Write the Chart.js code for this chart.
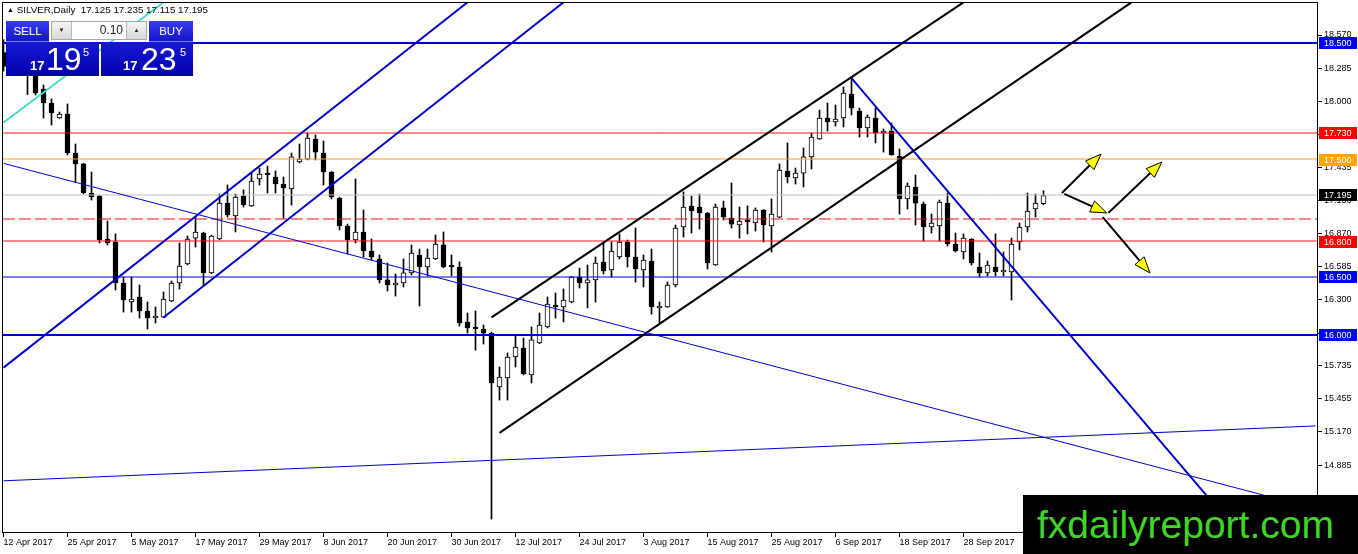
<!DOCTYPE html>
<html>
<head>
<meta charset="utf-8">
<title>SILVER, Daily</title>
<script src="https://cdn.jsdelivr.net/npm/chart.js@4.4.0/dist/chart.umd.min.js"></script>
<style>
  html, body { margin: 0; padding: 0; background: #fff; }
  #wrap { position: relative; width: 1358px; height: 554px; overflow: hidden; font-family: "Liberation Sans", Arial, sans-serif; }
  #chart { position: absolute; left: 0; top: 0; }
  #title { position: absolute; left: 7px; top: 4px; font-size: 9.8px; color: #000; white-space: pre; }
  #title .tri { font-size: 7px; vertical-align: 1px; }
  .btn { position: absolute; top: 21px; height: 21px; line-height: 21px; text-align: center; color: #fff; font-size: 11.5px;
         background: linear-gradient(#3a3af0, #1414c8); border-bottom: 1px solid #8080ff; box-sizing: border-box; }
  #sell { left: 6px; width: 43px; }
  #buy { left: 149px; width: 44px; }
  #lots { position: absolute; left: 51px; top: 21px; width: 96px; height: 19px; background: #fff; border: 1px solid #a8a8a8; box-sizing: border-box; }
  #lots .spin { position: absolute; top: 0; width: 19px; height: 17px; background: linear-gradient(#f4f4f4, #d8d8d8); font-size: 6px; line-height: 17px; text-align: center; color: #222; }
  #lots .down { left: 0; border-right: 1px solid #b8b8b8; }
  #lots .up { right: 0; border-left: 1px solid #b8b8b8; }
  #lots .val { position: absolute; right: 23px; top: 0; font-size: 12px; line-height: 17px; color: #222; }
  .quote { position: absolute; top: 42px; height: 34px; background: linear-gradient(#1818d8, #0000a8); color: #fff; }
  #bid { left: 6px; width: 93px; }
  #ask { left: 101px; width: 92px; }
  .quote span { position: absolute; white-space: nowrap; }
  .q-small { top: 17px; font-size: 13px; line-height: 13px; font-weight: bold; }
  .q-big { top: 1px; font-size: 32px; line-height: 32px; }
  .q-sup { top: 5px; font-size: 11px; line-height: 11px; }
  #brand { position: absolute; left: 1023px; top: 495px; width: 335px; height: 59px; background: #000; color: #3fd626;
           font-size: 39px; line-height: 59px; padding-left: 14px; box-sizing: border-box; white-space: nowrap; }
</style>
</head>
<body>
<div id="wrap">
  <canvas id="chart" width="1358" height="554"></canvas>
  <div id="title"><span class="tri">▲</span> SILVER,Daily  17.125 17.235 17.115 17.195</div>
  <div class="btn" id="sell">SELL</div>
  <div id="lots"><span class="spin down">▼</span><span class="val">0.10</span><span class="spin up">▲</span></div>
  <div class="btn" id="buy">BUY</div>
  <div class="quote" id="bid"><span class="q-small" style="left:24px">17</span><span class="q-big" style="left:40px">19</span><span class="q-sup" style="left:77px">5</span></div>
  <div class="quote" id="ask"><span class="q-small" style="left:22px">17</span><span class="q-big" style="left:40px">23</span><span class="q-sup" style="left:79px">5</span></div>
  <div id="brand">fxdailyreport.com</div>
</div>
<script>
// daily bars, 12 Apr 2017 .. 12 Oct 2017 (bar index 0..130)
const opens = [
  18.42, 18.30, 18.38, 18.28, 18.236, 18.107, 17.987, 17.859, 17.893, 17.559,
  17.465, 17.216, 17.190, 16.822, 16.796, 16.445, 16.282, 16.325, 16.205, 16.145,
  16.153, 16.291, 16.445, 16.608, 16.830, 16.873, 16.531, 16.822, 17.130, 17.019,
  17.190, 17.105, 17.336, 17.387, 17.353, 17.293, 17.250, 17.482, 17.507, 17.679,
  17.559, 17.396, 17.173, 16.933, 16.813, 16.882, 16.719, 16.651, 16.471, 16.428,
  16.445, 16.531, 16.685, 16.582, 16.651, 16.771, 16.599, 16.582, 16.111, 16.059,
  16.051, 16.016, 15.554, 15.631, 15.811, 15.888, 15.657, 15.931, 16.068, 16.256,
  16.239, 16.282, 16.496, 16.445, 16.471, 16.625, 16.556, 16.668, 16.796, 16.668,
  16.556, 16.633, 16.231, 16.239, 16.428, 16.925, 17.105, 17.096, 17.045, 16.599,
  17.088, 17.002, 16.942, 16.976, 16.959, 17.070, 16.933, 17.010, 17.405, 17.345,
  17.387, 17.525, 17.679, 17.859, 17.825, 17.859, 18.064, 17.919, 17.773, 17.859,
  17.730, 17.747, 17.533, 17.165, 17.267, 17.122, 16.925, 16.933, 17.130, 16.779,
  16.711, 16.822, 16.582, 16.531, 16.582, 16.539, 16.539, 16.796, 16.925, 17.079,
  17.125
];
const highs = [
  18.53, 18.42, 18.45, 18.32, 18.27, 18.142, 18.022, 17.910, 17.979, 17.636,
  17.470, 17.396, 17.195, 16.976, 16.865, 16.496, 16.496, 16.428, 16.282, 16.239,
  16.368, 16.462, 16.788, 16.848, 17.010, 16.880, 16.855, 17.207, 17.285, 17.207,
  17.242, 17.388, 17.430, 17.447, 17.405, 17.353, 17.559, 17.636, 17.730, 17.713,
  17.662, 17.400, 17.180, 16.950, 17.336, 17.070, 16.822, 16.685, 16.616, 16.522,
  16.651, 16.771, 16.736, 16.736, 16.856, 16.882, 16.685, 16.625, 16.188, 16.205,
  16.085, 16.025, 15.725, 15.845, 15.999, 15.973, 16.068, 16.188, 16.325, 16.359,
  16.394, 16.500, 16.573, 16.599, 16.668, 16.788, 16.796, 16.865, 16.813, 16.916,
  16.685, 16.736, 16.282, 16.453, 16.942, 17.225, 17.190, 17.207, 17.050, 17.122,
  17.147, 17.302, 17.096, 17.105, 17.088, 17.075, 17.165, 17.465, 17.645, 17.430,
  17.602, 17.730, 17.927, 17.987, 17.970, 18.124, 18.210, 17.944, 17.885, 17.944,
  17.765, 17.816, 17.593, 17.302, 17.370, 17.139, 17.036, 17.156, 17.216, 16.873,
  16.865, 16.825, 16.702, 16.633, 16.865, 16.711, 16.830, 16.959, 17.216, 17.207,
  17.235
];
const lows = [
  18.26, 18.24, 18.25, 18.06, 18.056, 17.859, 17.799, 17.855, 17.542, 17.310,
  17.210, 17.156, 16.788, 16.771, 16.385, 16.196, 16.196, 16.145, 16.051, 16.102,
  16.150, 16.285, 16.394, 16.600, 16.753, 16.428, 16.525, 16.815, 17.010, 16.882,
  17.096, 17.100, 17.285, 17.216, 17.216, 17.002, 17.113, 17.473, 17.500, 17.499,
  17.285, 17.165, 16.899, 16.693, 16.788, 16.668, 16.642, 16.445, 16.376, 16.333,
  16.411, 16.513, 16.248, 16.505, 16.645, 16.575, 16.505, 16.076, 16.016, 15.870,
  15.922, 14.422, 15.442, 15.442, 15.725, 15.657, 15.588, 15.925, 16.060, 16.145,
  16.111, 16.275, 16.402, 16.231, 16.282, 16.522, 16.496, 16.651, 16.582, 16.453,
  16.411, 16.179, 16.102, 16.235, 16.411, 16.839, 16.873, 16.907, 16.565, 16.595,
  16.985, 16.916, 16.830, 16.865, 16.890, 16.796, 16.711, 17.005, 17.302, 17.293,
  17.268, 17.422, 17.675, 17.747, 17.790, 17.782, 17.885, 17.696, 17.696, 17.645,
  17.567, 17.540, 17.036, 17.079, 16.942, 16.805, 16.873, 16.805, 16.762, 16.711,
  16.651, 16.599, 16.496, 16.505, 16.505, 16.505, 16.299, 16.728, 16.882, 17.010,
  17.115
];
const closes = [
  18.30, 18.38, 18.28, 18.24, 18.073, 17.987, 17.902, 17.893, 17.559, 17.465,
  17.216, 17.182, 16.813, 16.788, 16.445, 16.299, 16.308, 16.205, 16.145, 16.162,
  16.308, 16.445, 16.590, 16.822, 16.882, 16.531, 16.848, 17.130, 17.028, 17.182,
  17.113, 17.319, 17.379, 17.370, 17.293, 17.259, 17.525, 17.507, 17.687, 17.567,
  17.396, 17.182, 16.933, 16.813, 16.882, 16.719, 16.668, 16.471, 16.428, 16.445,
  16.531, 16.702, 16.582, 16.659, 16.779, 16.582, 16.582, 16.102, 16.059, 16.051,
  16.016, 15.588, 15.639, 15.811, 15.896, 15.665, 15.957, 16.085, 16.265, 16.239,
  16.299, 16.496, 16.445, 16.471, 16.616, 16.548, 16.719, 16.796, 16.668, 16.565,
  16.642, 16.239, 16.248, 16.428, 16.916, 17.096, 17.062, 17.045, 16.616, 17.096,
  17.010, 16.950, 16.976, 16.968, 17.070, 16.942, 17.036, 17.413, 17.353, 17.387,
  17.525, 17.696, 17.859, 17.825, 17.850, 18.073, 17.944, 17.773, 17.867, 17.730,
  17.747, 17.542, 17.165, 17.276, 17.130, 16.925, 16.959, 17.139, 16.779, 16.719,
  16.830, 16.616, 16.531, 16.599, 16.539, 16.556, 16.779, 16.925, 17.062, 17.130,
  17.195
];

// one date label every 8 bars, starting at bar 0
const xTickLabels = [
  "12 Apr 2017", "25 Apr 2017", "5 May 2017", "17 May 2017", "29 May 2017", "8 Jun 2017",
  "20 Jun 2017", "30 Jun 2017", "12 Jul 2017", "24 Jul 2017", "3 Aug 2017", "15 Aug 2017",
  "25 Aug 2017", "6 Sep 2017", "18 Sep 2017", "28 Sep 2017"
];
const barsPerLabel = 8;
const yTicks = [18.570, 18.285, 18.000, 17.715, 17.435, 17.150, 16.870, 16.585, 16.300,
  16.015, 15.735, 15.455, 15.170, 14.885, 14.600];

// horizontal levels and the right-axis price tags
const levelPrices = [18.500, 17.730, 17.500, 17.195, 17.000, 16.800, 16.500, 16.000];
const tagPrices = [18.500, 17.730, 17.500, 17.195, 16.800, 16.500, 16.000];

// trend lines as [bar index, price] anchor pairs
const lineFrom = [[0, 15.72], [20, 16.15], [0, 17.82], [0, 17.47], [0, 14.75], [61, 16.15], [62, 15.16], [106, 18.20]];
const lineTo = [[58, 18.85], [70, 18.85], [20, 18.85], [164, 14.51], [164, 15.22], [120, 18.85], [141, 18.85], [154.4, 14.30]];

// forecast arrows
const arrowFrom = [[132.3, 17.216], [132.6, 17.208], [138.1, 17.045], [137.4, 17.010]];
const arrowTo = [[137.2, 17.550], [137.9, 17.045], [144.8, 17.482], [143.3, 16.531]];

// styles
const levelStyles = [
  { color: "#0000cc", width: 2 },
  { color: "#ff1010", width: 1 },
  { color: "#ffa020", width: 1 },
  { color: "#c0c0c0", width: 1 },
  { color: "#e01010", width: 1, dash: [12, 4] },
  { color: "#ff1010", width: 1 },
  { color: "#0000cc", width: 1 },
  { color: "#0000cc", width: 2 }
];
const tagColors = ["#0000ff", "#ff0000", "#ffa500", "#000000", "#ff0000", "#0000ff", "#0000ff"];
const lineStyles = [
  { color: "#0000cc", width: 2 },
  { color: "#0000cc", width: 2 },
  { color: "#40e0c8", width: 2 },
  { color: "#0000cc", width: 1 },
  { color: "#0000cc", width: 1 },
  { color: "#000000", width: 2 },
  { color: "#000000", width: 2 },
  { color: "#0000cc", width: 2 }
];

const area = { left: 3, top: 3, right: 1318, bottom: 533 };
const pxPerBar = 8;
const pxPerUnit = 116.7;
const xMin = -0.5 / pxPerBar;
const xMax = xMin + (area.right - area.left) / pxPerBar;
const yMax = 18.570 + (35 - area.top) / pxPerUnit;
const yMin = yMax - (area.bottom - area.top) / pxPerUnit;
const tickFont = { family: "'Liberation Sans', Arial, sans-serif", size: 9 };

let datasets = [];

datasets.push({
  type: "bar",
  label: "wicks",
  data: highs.map((h, i) => ({ x: i, y: [lows[i], h] })),
  backgroundColor: "#000",
  borderWidth: 0,
  grouped: false,
  barPercentage: 1,
  categoryPercentage: 1,
  maxBarThickness: 1,
  minBarLength: 1,
  order: 4
});

datasets.push({
  type: "bar",
  label: "bodies",
  data: opens.map((o, i) => ({ x: i, y: [o, closes[i]] })),
  backgroundColor: (ctx) => (closes[ctx.dataIndex] >= opens[ctx.dataIndex] ? "#ffffff" : "#000000"),
  borderColor: "#000",
  borderWidth: 1,
  borderSkipped: false,
  grouped: false,
  barPercentage: 1,
  categoryPercentage: 1,
  maxBarThickness: 5,
  minBarLength: 2,
  order: 3
});

levelPrices.forEach((price, k) => {
  const st = levelStyles[k];
  datasets.push({
    type: "line",
    label: "level " + price,
    data: [{ x: xMin, y: price }, { x: xMax, y: price }],
    levelPrice: price,
    borderColor: st.color,
    borderWidth: st.width,
    borderDash: st.dash || [],
    pointRadius: 0,
    fill: false,
    clip: 0,
    order: 2
  });
});

lineFrom.forEach((p, k) => {
  const st = lineStyles[k];
  datasets.push({
    type: "line",
    label: "trend " + k,
    data: [{ x: p[0], y: p[1] }, { x: lineTo[k][0], y: lineTo[k][1] }],
    borderColor: st.color,
    borderWidth: st.width,
    pointRadius: 0,
    fill: false,
    clip: 0,
    order: 1
  });
});

// nudge each horizontal level onto an odd pixel row boundary (< 1px shift)
const snapPlugin = {
  id: "snapLevels",
  beforeDatasetDraw(chart, args) {
    const ds = chart.data.datasets[args.index];
    if (ds.levelPrice === undefined) return;
    const y = chart.scales.y.getPixelForValue(ds.levelPrice);
    const target = 2 * Math.floor(y / 2) + 1;
    chart.ctx.save();
    chart.ctx.translate(0, target - y);
  },
  afterDatasetDraw(chart, args) {
    const ds = chart.data.datasets[args.index];
    if (ds.levelPrice === undefined) return;
    chart.ctx.restore();
  }
};

const framePlugin = {
  id: "frame",
  afterDatasetsDraw(chart) {
    const a = chart.chartArea;
    const ctx = chart.ctx;
    ctx.save();
    ctx.strokeStyle = "#000";
    ctx.lineWidth = 1;
    ctx.strokeRect(a.left - 0.5, a.top - 0.5, a.right - a.left, a.bottom - a.top);
    ctx.restore();
  }
};

const arrowPlugin = {
  id: "arrows",
  afterDatasetsDraw(chart) {
    const xs = chart.scales.x;
    const ys = chart.scales.y;
    const ctx = chart.ctx;
    ctx.save();
    arrowFrom.forEach((p, k) => {
      const x1 = xs.getPixelForValue(p[0]);
      const y1 = ys.getPixelForValue(p[1]);
      const x2 = xs.getPixelForValue(arrowTo[k][0]);
      const y2 = ys.getPixelForValue(arrowTo[k][1]);
      const ang = Math.atan2(y2 - y1, x2 - x1);
      const headLen = 16;
      const half = 6;
      const bx = x2 - headLen * Math.cos(ang);
      const by = y2 - headLen * Math.sin(ang);
      ctx.strokeStyle = "#000";
      ctx.lineWidth = 2;
      ctx.beginPath();
      ctx.moveTo(x1, y1);
      ctx.lineTo(bx, by);
      ctx.stroke();
      ctx.beginPath();
      ctx.moveTo(x2, y2);
      ctx.lineTo(bx + half * Math.sin(ang), by - half * Math.cos(ang));
      ctx.lineTo(bx - half * Math.sin(ang), by + half * Math.cos(ang));
      ctx.closePath();
      ctx.fillStyle = "#ffff00";
      ctx.fill();
      ctx.lineWidth = 1;
      ctx.stroke();
    });
    ctx.restore();
  }
};

const tagPlugin = {
  id: "priceTags",
  afterDraw(chart) {
    const ys = chart.scales.y;
    const ctx = chart.ctx;
    const left = chart.chartArea.right + 1;
    ctx.save();
    ctx.font = "9px 'Liberation Sans', Arial, sans-serif";
    ctx.textBaseline = "middle";
    ctx.textAlign = "left";
    tagPrices.forEach((price, k) => {
      const y = Math.round(ys.getPixelForValue(price));
      ctx.fillStyle = tagColors[k];
      ctx.fillRect(left, y - 6, 38, 12);
      ctx.fillStyle = "#fff";
      ctx.fillText(price.toFixed(3), left + 5, y + 0.5);
    });
    ctx.restore();
  }
};

new Chart(document.querySelector("#chart"), {
  type: "bar",
  data: { datasets: datasets },
  options: {
    responsive: false,
    devicePixelRatio: 1,
    animation: false,
    events: [],
    layout: { padding: { left: area.left, top: area.top, right: 0, bottom: 0 } },
    plugins: { legend: { display: false }, tooltip: { enabled: false } },
    scales: {
      x: {
        type: "linear",
        min: xMin,
        max: xMax,
        offset: false,
        border: { display: false },
        grid: { drawOnChartArea: false, drawTicks: true, tickLength: 4, tickColor: "#000", offset: false },
        ticks: {
          autoSkip: false,
          maxRotation: 0,
          minRotation: 0,
          align: "start",
          padding: 0,
          color: "#000",
          font: tickFont,
          callback: (value, index) => xTickLabels[index]
        },
        afterBuildTicks: (scale) => {
          scale.ticks = xTickLabels.map((_, k) => ({ value: k * barsPerLabel }));
        },
        afterFit: (scale) => {
          scale.height = 554 - area.bottom;
          scale.paddingLeft = 0;
          scale.paddingRight = 0;
        }
      },
      y: {
        type: "linear",
        position: "right",
        min: yMin,
        max: yMax,
        border: { display: false },
        grid: { drawOnChartArea: false, drawTicks: true, tickLength: 4, tickColor: "#000" },
        ticks: {
          padding: 2,
          color: "#000",
          font: tickFont,
          callback: (value) => value.toFixed(3)
        },
        afterBuildTicks: (scale) => {
          scale.ticks = yTicks.map((v) => ({ value: v }));
        },
        afterFit: (scale) => {
          scale.width = 1358 - area.right;
          scale.paddingTop = 0;
          scale.paddingBottom = 0;
        }
      }
    }
  },
  plugins: [snapPlugin, framePlugin, arrowPlugin, tagPlugin]
});
</script>
</body>
</html>
